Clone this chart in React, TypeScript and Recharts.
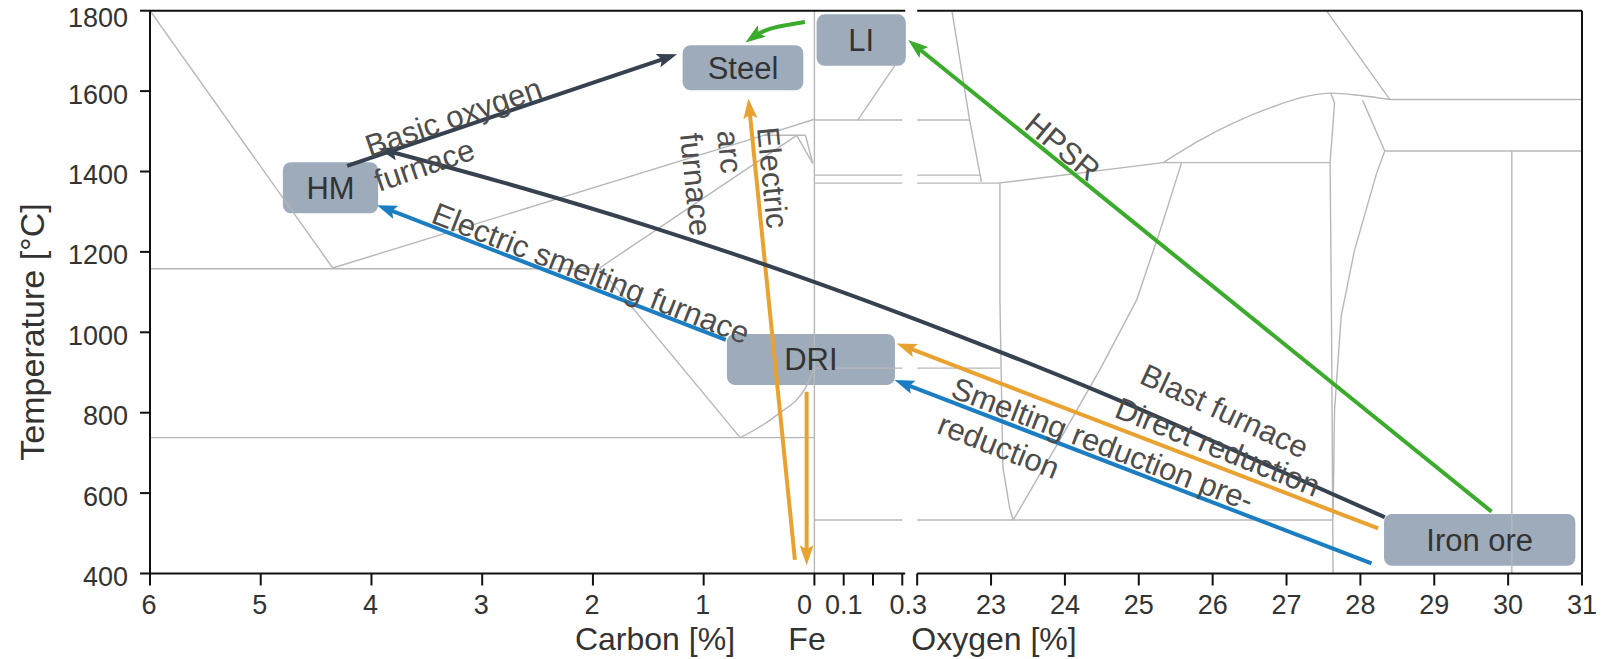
import React from "react";
import {
  ComposedChart,
  Line,
  XAxis,
  YAxis,
  ReferenceLine,
  ReferenceArea,
  ReferenceDot
} from "recharts";

const FONT = '"Liberation Sans", Arial, Helvetica, sans-serif';

// the x axis is a composite: carbon wt% (6 -> 0), Fe with a little oxygen (0 -> 0.3 wt%), oxygen wt% (22 -> 31)
const C = (c: number) => (6 - c) * 110.75;
const F = (f: number) => 664.5 + f * 293;
const O = (o: number) => 767.3 + (o - 22) * 73.88;
const X_MAX = O(31);

const carbonTicks = [6, 5, 4, 3, 2, 1, 0];
const feTicks = [0.1, 0.2, 0.3];
const feTickLabels = ["0.1", "", "0.3"];
const oxygenTicks = [22, 23, 24, 25, 26, 27, 28, 29, 30, 31];
const tempTicks = [400, 600, 800, 1000, 1200, 1400, 1600, 1800];

// Fe-C side of the phase diagram
const cLiqHyper = [[C(6), 1800], [C(4.35), 1160]];
const cEutectic = [[C(6), 1158], [C(1.94), 1158]];
const cLiqHypo = [[C(4.35), 1160], [C(0.46), 1490], [C(0), 1530]];
const cSolidus = [[C(1.94), 1160], [C(0.16), 1490]];
const cPeritectic = [[C(0.46), 1490], [C(0.08), 1490]];
const cDeltaA = [[C(0.16), 1490], [C(0.015), 1420]];
const cDeltaB = [[C(0.08), 1490], [C(0.015), 1420]];
const cAcm = [[C(1.94), 1160], [C(0.67), 738]];
const cEutectoid = [[C(6), 738], [C(0), 738]];
const cA3 = [[C(0.67), 738], [C(0.34), 794], [C(0.06), 873], [C(0), 912]];
const feVertical = [[F(0), 400], [F(0), 1800]];

// Fe-O side
const feH1528 = [[F(0), 1528], [F(0.3), 1528]];
const oH1528 = [[O(22), 1528], [O(22.71), 1528]];
const feH1391 = [[F(0), 1391], [F(0.3), 1391]];
const oH1391 = [[O(22), 1391], [O(22.86), 1391]];
const feH1371 = [[F(0), 1371], [F(0.3), 1371]];
const oH1371 = [[O(22), 1371], [O(23.1), 1371], [O(25.33), 1422]];
const feH912 = [[F(0), 911], [F(0.3), 911]];
const oH912 = [[O(22), 911], [O(23.12), 911]];
const feH533 = [[F(0), 533], [F(0.3), 533]];
const oH533 = [[O(22), 533], [O(27.63), 533]];
const feLiNose = [[F(0.148), 1528], [F(0.275), 1664]];
const oTopLeft = [[O(22.47), 1800], [O(22.71), 1528], [O(22.87), 1374]];
const oH1422 = [[O(25.33), 1422], [O(27.59), 1422]];
const oGap = [[O(25.33), 1422], [O(25.83), 1478], [O(26.3), 1522], [O(26.8), 1560], [O(27.3), 1588], [O(27.6), 1595], [O(28.0), 1589], [O(28.4), 1579]];
const oH1579 = [[O(28.4), 1579], [O(31), 1579]];
const oTopRight = [[O(27.54), 1800], [O(28.4), 1579]];
const oWusLeft = [[O(27.6), 1595], [O(27.65), 1570], [O(27.59), 1422], [O(27.61), 1000], [O(27.63), 400]];
const oMagLiq = [[O(28.03), 1577], [O(28.33), 1451]];
const oH1451 = [[O(28.33), 1451], [O(31), 1451]];
const oWusRight = [[O(28.33), 1451], [O(28.22), 1396], [O(27.92), 1204], [O(27.74), 1040], [O(27.65), 807], [O(27.63), 540]];
const oMag = [[O(30.05), 1451], [O(30.05), 400]];
const oVLeft = [[O(23.12), 1371], [O(23.12), 1080], [O(23.16), 665], [O(23.25), 565], [O(23.3), 533]];
const oVRight = [[O(23.3), 533], [O(23.93), 732], [O(24.47), 906], [O(24.97), 1080], [O(25.29), 1254], [O(25.58), 1422]];

const phaseLines = [
  cLiqHyper, cEutectic, cLiqHypo, cSolidus, cPeritectic, cDeltaA, cDeltaB, cAcm, cEutectoid,
  feVertical, feH1528, oH1528, feH1391, oH1391, feH1371, oH1371, feH912, oH912, feH533, oH533,
  feLiNose, oTopLeft, oH1422, oH1579, oTopRight, oWusLeft, oMagLiq, oH1451, oWusRight, oMag,
  oVLeft, oVRight
];
const phaseCurves = [cA3, oGap];

// process routes
const bofPath = [[C(4.22), 1414], [C(1.3), 1686]];
const blastPath = [
  [O(28.33), 540], [O(26.5), 689], [O(24.47), 851], [O(22.44), 1000],
  [C(0.131), 1138], [C(1.485), 1263], [C(2.84), 1375], [C(3.878), 1453]
];
const esfPath = [[C(0.8), 981], [C(3.89), 1310]];
const eafPath = [[C(0.176), 434], [C(0.59), 1564]];
const driDownPath = [[C(0.07), 852], [C(0.07), 438]];
const drPath = [[O(28.24), 512], [F(0.303), 966]];
const srPath = [[O(28.15), 425], [F(0.296), 875]];
const hpsrPath = [[O(29.775), 554], [F(0.339), 1716]];
const liSteelPath = [[C(0.086), 1772], [C(0.402), 1755], [C(0.571), 1731]];

const COLORS = { dark: "#36424f", blue: "#1b7ec3", orange: "#e9a130", green: "#3aab2b" };

const routes = [
  { pts: esfPath, color: "blue", curve: "linear" },
  { pts: srPath, color: "blue", curve: "linear" },
  { pts: eafPath, color: "orange", curve: "linear" },
  { pts: driDownPath, color: "orange", curve: "linear" },
  { pts: drPath, color: "orange", curve: "linear" },
  { pts: bofPath, color: "dark", curve: "linear" },
  { pts: blastPath, color: "dark", curve: "monotone" },
  { pts: hpsrPath, color: "green", curve: "linear" },
  { pts: liSteelPath, color: "green", curve: "natural" }
];

const boxNames = ["HM", "Steel", "LI", "DRI", "Iron ore"];
const boxX = [[C(4.8), C(3.94)], [C(1.19), C(0.1)], [F(0.0075), F(0.312)], [C(0.79), F(0.275)], [O(28.32), O(30.91)]];
const boxT = [[1296, 1423], [1602, 1714], [1663, 1791], [869, 996], [419, 548]];

const notes = [
  { text: "Basic oxygen", x: C(3.228), t: 1510, angle: -19, anchor: "middle" },
  { text: "furnace", x: C(3.49), t: 1391, angle: -19, anchor: "middle" },
  { text: "Electric smelting furnace", x: C(2.054), t: 1122, angle: 21.3, anchor: "middle" },
  { text: "Electric", x: C(0.519), t: 1508, angle: 84.3, anchor: "start" },
  { text: "arc", x: C(0.88), t: 1500, angle: 84.3, anchor: "start" },
  { text: "furnace", x: C(1.214), t: 1493, angle: 84.3, anchor: "start" },
  { text: "HPSR", x: O(23.877), t: 1441, angle: 40, anchor: "middle" },
  { text: "Blast furnace", x: O(26.1), t: 780, angle: 25, anchor: "middle" },
  { text: "Direct reduction", x: O(26.016), t: 690, angle: 21.8, anchor: "middle" },
  { text: "Smelting reduction pre-", x: O(24.459), t: 697, angle: 21, anchor: "middle" },
  { text: "reduction", x: O(23.05), t: 692, angle: 21.5, anchor: "middle" }
];

const xTicks = [
  ...carbonTicks.map((c) => ({ pos: C(c), label: String(c), dx: c === 0 ? -10 : -1 })),
  ...feTicks.map((f, i) => ({ pos: F(f), label: feTickLabels[i], dx: f === 0.3 ? 6 : 0 })),
  ...oxygenTicks.map((o) => ({ pos: O(o), label: o === 22 ? "" : String(o), dx: 0 }))
];

const toRows = (pts: number[][]) => pts.map(([x, y]) => ({ x, y }));

function XTick(props: any) {
  const { x, y, payload } = props;
  const t = xTicks.find((k) => Math.abs(k.pos - payload.value) < 0.01);
  if (!t || !t.label) return null;
  return (
    <text x={x + t.dx} y={y} dy="0.71em" textAnchor="middle" fontSize={27} fill="#333" fontFamily={FONT}>
      {t.label}
    </text>
  );
}

function YTick(props: any) {
  const { x, y, payload } = props;
  const off = payload.value === 1800 ? 7 : 3;
  return (
    <text x={x} y={y + off} dy="0.355em" textAnchor="end" fontSize={27} fill="#333" fontFamily={FONT}>
      {payload.value}
    </text>
  );
}

function Arrowheads() {
  return (
    <svg width={0} height={0} style={{ position: "absolute" }}>
      <defs>
        {Object.entries(COLORS).map(([k, c]) => (
          <marker
            key={k}
            id={`ah-${k}`}
            viewBox="0 0 20 14"
            refX={13}
            refY={7}
            markerWidth={20}
            markerHeight={14}
            markerUnits="userSpaceOnUse"
            orient="auto"
          >
            <path d="M0,0 L20,7 L0,14 L4,7 Z" fill={c} />
          </marker>
        ))}
      </defs>
    </svg>
  );
}

export default function App() {
  const axisStroke = { stroke: "#111", strokeWidth: 2 };
  return (
    <div style={{ position: "absolute", left: 0, top: 0, width: 1602, height: 659, background: "#fff", fontFamily: FONT }}>
      <Arrowheads />
      <ComposedChart width={1602} height={659} margin={{ top: 10.7, right: 0, left: 70, bottom: 25.5 }}>
        <XAxis
          dataKey="x"
          type="number"
          domain={[0, X_MAX]}
          ticks={xTicks.map((t) => t.pos)}
          interval={0}
          height={60}
          axisLine={false}
          tickLine={axisStroke}
          tickSize={12}
          tickMargin={9}
          tick={<XTick />}
        />
        <YAxis
          yAxisId="t"
          type="number"
          domain={[400, 1800]}
          ticks={tempTicks}
          interval={0}
          width={80}
          axisLine={axisStroke}
          tickLine={axisStroke}
          tickSize={10}
          tickMargin={12}
          tick={<YTick />}
        />
        <YAxis
          yAxisId="r"
          orientation="right"
          type="number"
          domain={[400, 1800]}
          ticks={tempTicks}
          interval={0}
          width={20}
          axisLine={axisStroke}
          tickLine={axisStroke}
          tickSize={13}
          tick={false}
        />

        {phaseLines.map((pts, i) => (
          <Line
            key={`p${i}`}
            yAxisId="t"
            data={toRows(pts)}
            dataKey="y"
            type="linear"
            stroke="#b7b7b7"
            strokeWidth={1.4}
            dot={false}
            activeDot={false}
            isAnimationActive={false}
          />
        ))}
        {phaseCurves.map((pts, i) => (
          <Line
            key={`pc${i}`}
            yAxisId="t"
            data={toRows(pts)}
            dataKey="y"
            type="monotone"
            stroke="#b7b7b7"
            strokeWidth={1.4}
            dot={false}
            activeDot={false}
            isAnimationActive={false}
          />
        ))}

        <ReferenceLine yAxisId="t" segment={[{ x: 0, y: 1800 }, { x: F(0.31), y: 1800 }]} {...axisStroke} ifOverflow="visible" />
        <ReferenceLine yAxisId="t" segment={[{ x: O(22), y: 1800 }, { x: X_MAX, y: 1800 }]} {...axisStroke} ifOverflow="visible" />
        <ReferenceLine yAxisId="t" segment={[{ x: 0, y: 400 }, { x: F(0.31), y: 400 }]} {...axisStroke} ifOverflow="visible" />
        <ReferenceLine yAxisId="t" segment={[{ x: O(22), y: 400 }, { x: X_MAX, y: 400 }]} {...axisStroke} ifOverflow="visible" />

        {routes.map((r, i) => (
          <Line
            key={`r${i}`}
            yAxisId="t"
            data={toRows(r.pts)}
            dataKey="y"
            type={r.curve as any}
            stroke={(COLORS as any)[r.color]}
            strokeWidth={4}
            dot={false}
            activeDot={false}
            markerEnd={`url(#ah-${r.color})`}
            isAnimationActive={false}
          />
        ))}

        {boxNames.map((name, i) => (
          <ReferenceArea
            key={name}
            yAxisId="t"
            x1={boxX[i][0]}
            x2={boxX[i][1]}
            y1={boxT[i][0]}
            y2={boxT[i][1]}
            fill="#9eabbb"
            fillOpacity={1}
            stroke="none"
            radius={8}
            ifOverflow="visible"
            label={{ value: name, position: "center", fill: "#333", fontSize: 31, fontFamily: FONT }}
          />
        ))}

        {notes.map((n, i) => (
          <ReferenceDot
            key={`n${i}`}
            yAxisId="t"
            x={n.x}
            y={n.t}
            r={0}
            ifOverflow="visible"
            shape={(p: any) => (
              <text
                x={p.cx}
                y={p.cy}
                transform={`rotate(${n.angle} ${p.cx} ${p.cy})`}
                textAnchor={n.anchor as any}
                fontSize={31}
                fill="#4d4d4d"
                fontFamily={FONT}
              >
                {n.text}
              </text>
            )}
          />
        ))}
      </ComposedChart>
      <svg width={1602} height={659} style={{ position: "absolute", left: 0, top: 0, pointerEvents: "none" }}>
        <g fontFamily={FONT} fill="#333">
          <text transform="translate(44,332) rotate(-90)" textAnchor="middle" fontSize={34}>Temperature [°C]</text>
          <text x={655} y={650} textAnchor="middle" fontSize={32}>Carbon [%]</text>
          <text x={807} y={650} textAnchor="middle" fontSize={32}>Fe</text>
          <text x={994} y={650} textAnchor="middle" fontSize={32}>Oxygen [%]</text>
        </g>
      </svg>
    </div>
  );
}
